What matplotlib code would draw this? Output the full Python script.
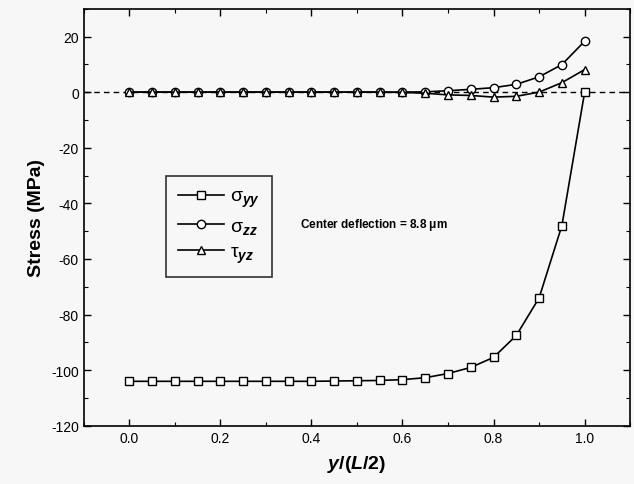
import matplotlib.pyplot as plt
from matplotlib.ticker import MultipleLocator

plt.rcParams['font.family'] = ['Liberation Sans', 'DejaVu Sans']
plt.rcParams['axes.unicode_minus'] = False
plt.rcParams['mathtext.fontset'] = 'custom'
plt.rcParams['mathtext.rm'] = 'Liberation Sans'
plt.rcParams['mathtext.it'] = 'Liberation Sans:italic'
plt.rcParams['mathtext.bf'] = 'Liberation Sans:bold'
plt.rcParams['mathtext.bfit'] = 'Liberation Sans:bold:italic'

# normalized position along the half-length
pos = [0.0, 0.05, 0.1, 0.15, 0.2, 0.25, 0.3, 0.35, 0.4, 0.45, 0.5,
       0.55, 0.6, 0.65, 0.7, 0.75, 0.8, 0.85, 0.9, 0.95, 1.0]
sigma_yy = [-104.0, -104.0, -104.0, -104.0, -104.0, -104.0, -104.0, -104.0, -104.0, -103.9, -103.8,
            -103.7, -103.4, -102.7, -101.2, -99.0, -95.4, -87.5, -74.0, -48.0, 0.0]
sigma_zz = [0.0, 0.0, 0.0, 0.0, 0.0, 0.0, 0.0, 0.0, 0.0, 0.0, 0.0,
            0.0, 0.0, 0.1, 0.5, 1.0, 1.6, 2.8, 5.5, 9.9, 18.3]
tau_yz = [0.0, 0.0, 0.0, 0.0, 0.0, 0.0, 0.0, 0.0, 0.0, 0.0, 0.0,
          0.0, -0.1, -0.4, -1.0, -1.2, -1.8, -1.5, 0.0, 3.4, 8.1]

fig = plt.figure(figsize=(6.34, 4.85), dpi=100)
fig.patch.set_facecolor('#f7f7f7')
ax = fig.add_axes([0.132, 0.12, 0.862, 0.86])
ax.set_facecolor('#f7f7f7')

ax.axhline(0, color='black', lw=1.0, ls=(0, (4, 3)), zorder=1)

mk = dict(color='black', lw=1.2, mfc='white', mec='black', mew=1.0, ms=6)
ax.plot(pos, sigma_yy, marker='s', label=r'$\mathrm{\sigma}_{\mathbfit{yy}}$', **mk)
ax.plot(pos, sigma_zz, marker='o', label=r'$\mathrm{\sigma}_{\mathbfit{zz}}$', **mk)
ax.plot(pos, tau_yz, marker='^', label=r'$\mathrm{\tau}_{\mathbfit{yz}}$', **mk)

ax.set_xlim(-0.1, 1.1)
ax.set_ylim(-120, 30)
ax.xaxis.set_minor_locator(MultipleLocator(0.1))
ax.yaxis.set_minor_locator(MultipleLocator(10))
ax.set_xticks([0.0, 0.2, 0.4, 0.6, 0.8, 1.0])
ax.set_xticklabels(['0.0', '0.2', '0.4', '0.6', '0.8', '1.0'])
ax.set_yticks([-120, -100, -80, -60, -40, -20, 0, 20])
ax.tick_params(which='both', direction='in', top=True, right=True, labelsize=10)
ax.tick_params(which='major', length=5, width=1)
ax.tick_params(which='minor', length=3, width=0.8)
for s in ax.spines.values():
    s.set_linewidth(1.2)

ax.set_xlabel(r'$\mathbfit{y}$/($\mathbfit{L}$/2)', fontsize=14, fontweight='bold', labelpad=6)
ax.set_ylabel('Stress (MPa)', fontsize=14, fontweight='bold', labelpad=4)

leg = ax.legend(loc='upper left', bbox_to_anchor=(0.133, 0.622), fontsize=14,
                frameon=True, fancybox=False, edgecolor='black', handlelength=2.4,
                handletextpad=0.3, labelspacing=0.4, borderpad=0.6)
leg.get_frame().set_linewidth(1.2)
leg.get_frame().set_facecolor('#f7f7f7')

ax.text(0.395, 0.484, r'Center deflection = 8.8 $\mathbf{\mu}$m', transform=ax.transAxes,
        fontsize=8.5, fontweight='bold', va='center')

fig.savefig('out.png', dpi=100, facecolor=fig.get_facecolor())
